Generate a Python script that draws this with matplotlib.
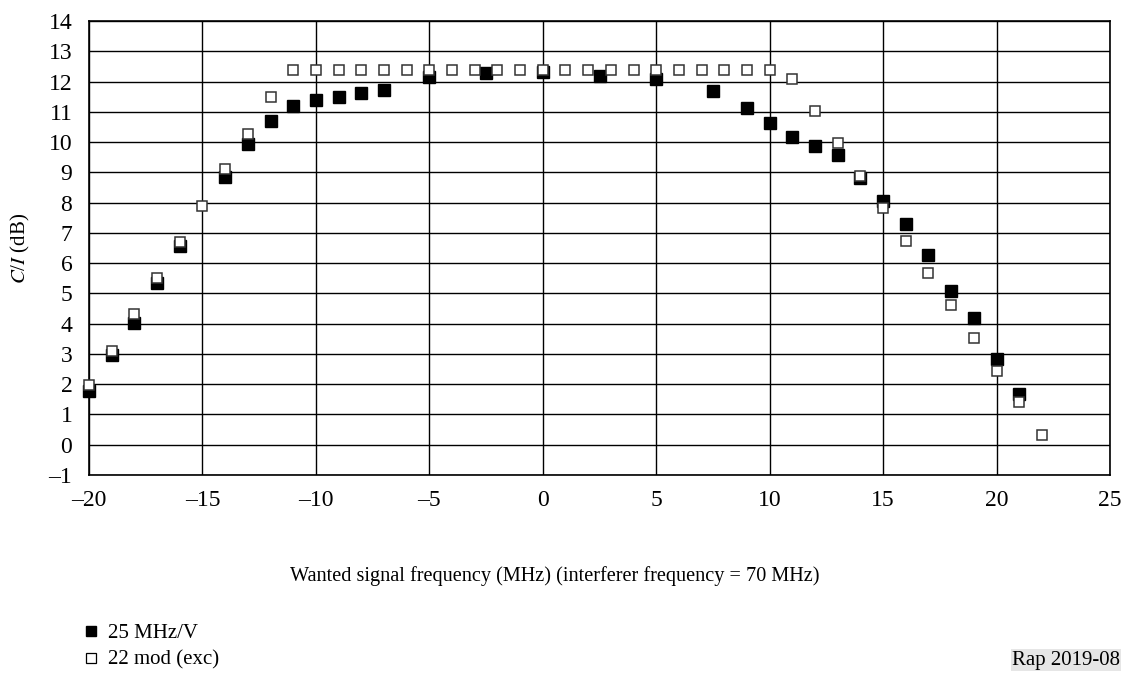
import numpy as np
import matplotlib.pyplot as plt

# 25 MHz/V (filled squares)
x_filled = [-20, -19, -18, -17, -16, -14, -13, -12, -11, -10, -9, -8, -7,
            -5, -2.5, 0, 2.5, 5, 7.5, 9, 10, 11, 12, 13, 14, 15, 16, 17,
            18, 19, 20, 21]
y_filled = [1.78, 2.95, 4.02, 5.35, 6.55, 8.85, 9.95, 10.7, 11.2, 11.4, 11.5,
            11.62, 11.72, 12.15, 12.29, 12.3, 12.18, 12.08, 11.68, 11.13,
            10.64, 10.16, 9.88, 9.58, 8.81, 8.06, 7.29, 6.28, 5.08, 4.2,
            2.84, 1.69]

# 22 mod (exc) (open squares)
x_open = list(range(-20, 23))
y_open = [1.96, 3.11, 4.32, 5.5, 6.7, 7.9, 9.1, 10.27, 11.48] + [12.37] * 22 + \
         [12.1, 11.03, 9.97, 8.89, 7.81, 6.74, 5.69, 4.61, 3.53, 2.45, 1.41, 0.32]

x_ticks = np.arange(-20, 26, 5)
y_ticks = np.arange(-1, 15, 1)

plt.rcParams['font.family'] = ['Liberation Serif', 'DejaVu Serif']

fig = plt.figure(figsize=(11.31, 6.75), dpi=100)
ax = fig.add_axes([89 / 1131, 1 - 475 / 675, (1110 - 89) / 1131, (475 - 21) / 675])

ax.plot(x_filled, y_filled, linestyle='none', marker='s', markersize=8,
        color='black', zorder=3, clip_on=False)
ax.plot(x_open, y_open, linestyle='none', marker='s', markersize=7.5,
        markerfacecolor='white', markeredgecolor='#333333', markeredgewidth=1.1,
        zorder=4, clip_on=False)

ax.set_xlim(-20, 25)
ax.set_ylim(-1, 14)
ax.set_xticks(x_ticks)
ax.set_yticks(y_ticks)
ax.set_xticklabels([str(v).replace('-', '\u2013') for v in x_ticks])
ax.set_yticklabels([str(v).replace('-', '\u2013') for v in y_ticks])
ax.tick_params(length=0, labelsize=17)
ax.tick_params(axis='x', pad=11)
ax.tick_params(axis='y', pad=12)
ax.grid(True, color='black', linewidth=1)
ax.set_axisbelow(True)
for s in ax.spines.values():
    s.set_linewidth(1.2)

fig.text(555 / 1131, 1 - 576 / 675, 'Wanted signal frequency (MHz) (interferer frequency = 70 MHz)',
         ha='center', va='center', fontsize=14.6)
fig.text(20 / 1131, 1 - 248 / 675, r'$C$/$I$ (dB)', rotation=90, ha='center', va='center',
         fontsize=15, math_fontfamily='stix')

# legend
fig.text(108 / 1131, 1 - 633 / 675, '25 MHz/V', ha='left', va='center', fontsize=15)
fig.text(108 / 1131, 1 - 660 / 675, '22 mod (exc)', ha='left', va='center', fontsize=15)
fig.lines.append(plt.Line2D([91 / 1131], [1 - 631 / 675], transform=fig.transFigure,
                            marker='s', markersize=6.5, color='black', linestyle='none'))
fig.lines.append(plt.Line2D([91 / 1131], [1 - 658 / 675], transform=fig.transFigure,
                            marker='s', markersize=6.5, markerfacecolor='white',
                            markeredgecolor='black', markeredgewidth=0.9, linestyle='none'))

fig.text(1120 / 1131, 1 - 660 / 675, 'Rap 2019-08', ha='right', va='center', fontsize=15,
         bbox=dict(facecolor='#e6e6e6', edgecolor='none', pad=1))

fig.savefig('out.png', dpi=100)
